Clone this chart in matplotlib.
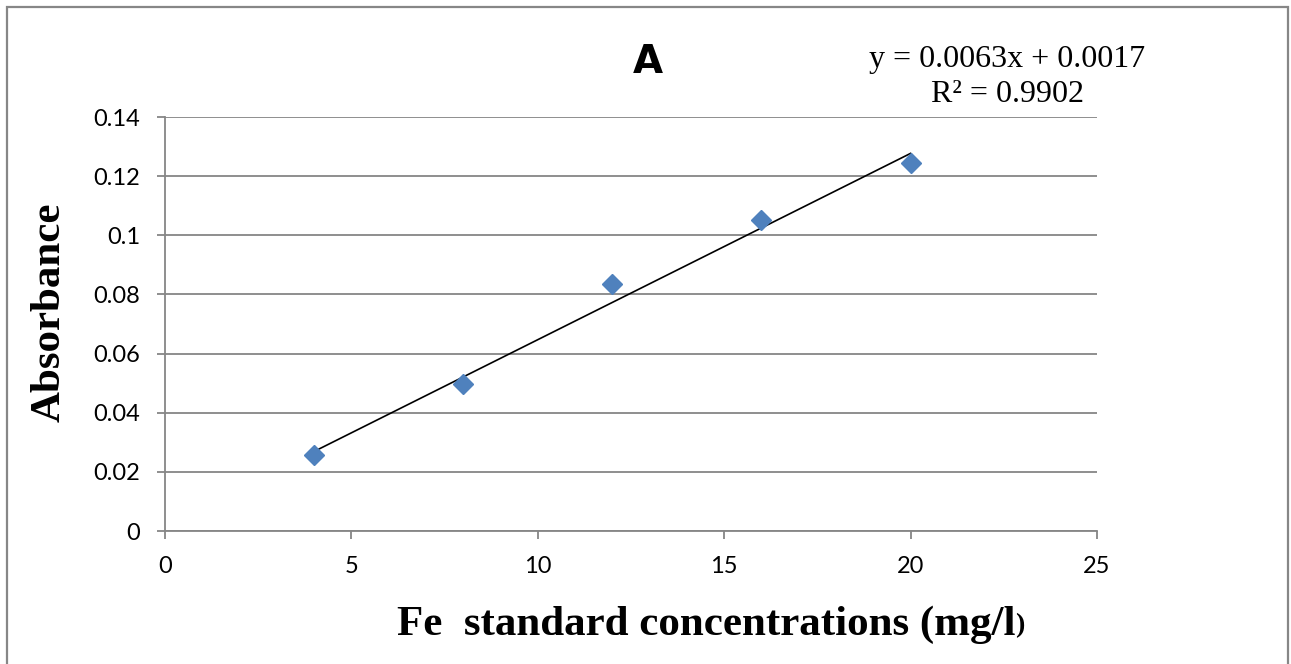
import numpy as np
import matplotlib
matplotlib.use('Agg')
import matplotlib.pyplot as plt
from matplotlib.patches import Rectangle

# Fe standard calibration data
conc = [4, 8, 12, 16, 20]
absorbance = [0.0258, 0.0497, 0.0835, 0.1053, 0.1245]

# Excel trendline as printed on the chart
slope = 0.0063
intercept = 0.0017
r2 = 0.9902

x_ticks = [0, 5, 10, 15, 20, 25]
y_ticks = [0, 0.02, 0.04, 0.06, 0.08, 0.1, 0.12, 0.14]
y_tick_labels = ['0', '0.02', '0.04', '0.06', '0.08', '0.1', '0.12', '0.14']

W, H = 1291, 664
fig = plt.figure(figsize=(W / 100, H / 100), dpi=100)
ax = fig.add_axes([165 / W, 1 - 531 / H, (1097 - 165) / W, (531 - 117) / H])

grid_col = '#868686'
ax.set_xlim(0, 25)
ax.set_ylim(0, 0.14)
ax.set_xticks(x_ticks)
ax.set_yticks(y_ticks)
ax.set_yticklabels(y_tick_labels)
ax.yaxis.grid(True, color=grid_col, linewidth=1.3)
ax.set_axisbelow(True)
for s in ['top', 'right']:
    ax.spines[s].set_visible(False)
for s in ['left', 'bottom']:
    ax.spines[s].set_color(grid_col)
    ax.spines[s].set_linewidth(1.3)
ax.tick_params(axis='both', direction='out', length=6, width=1.3, color=grid_col,
               labelsize=17, pad=12)
for lab in ax.get_xticklabels() + ax.get_yticklabels():
    lab.set_fontfamily('Lato')

# trendline over the data range
xl = np.array([min(conc), max(conc)])
ax.plot(xl, slope * xl + intercept, color='black', linewidth=1.2, zorder=3)
ax.plot(conc, absorbance, linestyle='none', marker='D', markersize=10,
        color='#4F81BD', zorder=4)

# titles and labels
fig.text(648 / W, 1 - 73 / H, 'A', fontsize=28, fontweight='bold', fontfamily='DejaVu Sans',
         ha='center', va='baseline')
fig.text(1007 / W, 1 - 67 / H, 'y = %.4fx + %.4f' % (slope, intercept), fontsize=23,
         fontfamily='Liberation Serif', ha='center', va='baseline')
fig.text(1007 / W, 1 - 102 / H, 'R² = %.4f' % r2, fontsize=23,
         fontfamily='Liberation Serif', ha='center', va='baseline')

fig.text(50 / W, 1 - 312 / H, 'Absorbance', fontsize=31, fontweight='bold',
         fontfamily='Liberation Serif', rotation=90, ha='center', va='center')
xlab = fig.text(397 / W, 1 - 635 / H, 'Fe  standard concentrations (mg/l', fontsize=31,
                fontweight='bold', fontfamily='Liberation Serif', ha='left', va='baseline')
fig.canvas.draw()
bb = xlab.get_window_extent()
fig.text(bb.x1 / W, 1 - 632 / H, ')', fontsize=20, fontweight='bold',
         fontfamily='Liberation Serif', ha='left', va='baseline')

# outer chart border
fig.patches.append(Rectangle((7 / W, -0.05), (1288 - 7) / W, 1.05 - 7 / H,
                             transform=fig.transFigure, fill=False,
                             edgecolor='#878787', linewidth=1.6))

fig.savefig('out.png', dpi=100)
